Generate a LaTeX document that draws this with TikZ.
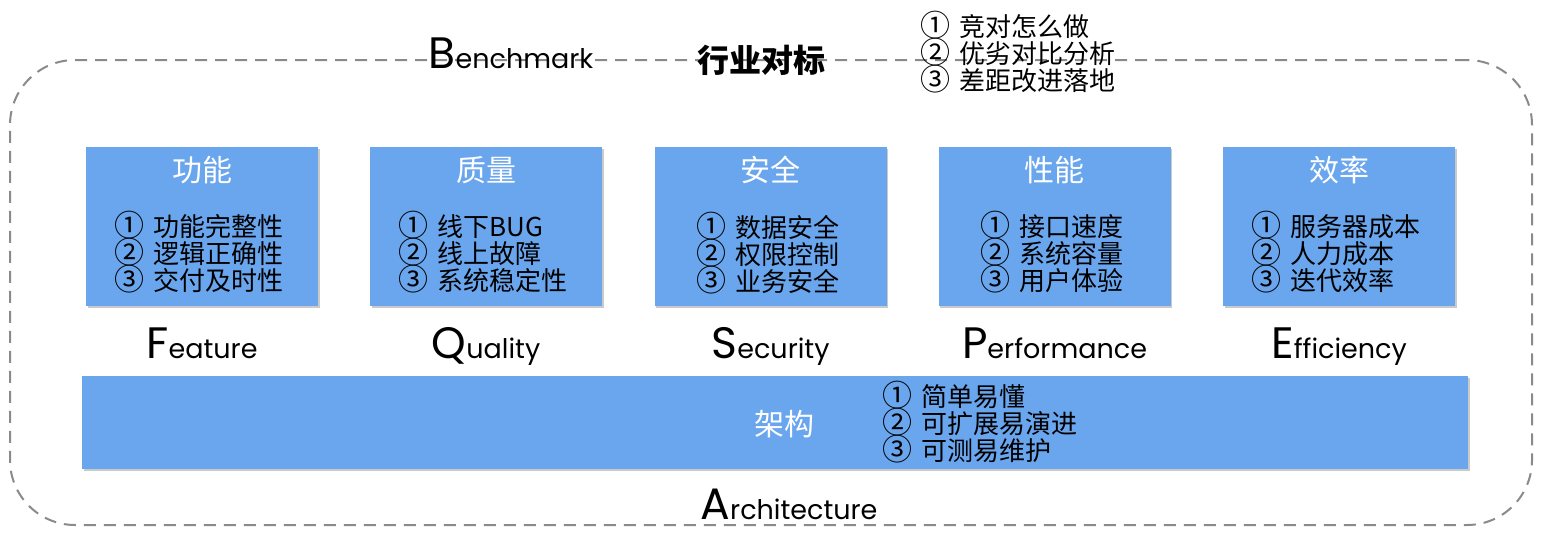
\documentclass[tikz,border=0pt]{standalone}
\usepackage{fontspec}
\setmainfont{Poppins}
\newfontfamily\cjk{Noto Sans CJK SC}
\usetikzlibrary{shadows}
\definecolor{boxblue}{HTML}{6AA6EE}
\definecolor{dashgray}{HTML}{8A8A8A}
\newcommand{\capletter}[1]{{\fontsize{44}{44}\selectfont #1}}
\newcommand{\cnum}[1]{\makebox[39pt][l]{\smash{\fontsize{30}{27}\selectfont #1}}}
\begin{document}
\begin{tikzpicture}[x=1pt,y=-1pt,
  frame/.style={draw=dashgray, line width=2pt, dash pattern=on 12pt off 8pt, rounded corners=65pt, inner sep=0pt, fill=none},
  card/.style={fill=boxblue, draw=none, inner sep=0pt, drop shadow={shadow xshift=1.5pt, shadow yshift=-2pt, opacity=0.35, fill=black!60}},
  cardtitle/.style={text=white, font=\cjk\fontsize{30}{30}\selectfont, inner sep=0pt},
  items/.style={text=black, font=\cjk\fontsize{26}{27}\selectfont, align=left, inner sep=0pt},
  eng/.style={text=black, font=\fontsize{27}{27}\selectfont, inner sep=0pt, anchor=base},
]
\useasboundingbox (0,0) rectangle (1552,542);
\node[frame, minimum width=1522pt, minimum height=465pt] (frame) at (771,292.5) {};

% cards
\foreach \n/\cx/\t/\a/\b/\c/\e/\f in {
  fe/202/功能/功能完整性/逻辑正确性/交付及时性/F/eature,
  qu/486/质量/线下BUG/线上故障/系统稳定性/Q/uality,
  se/770.5/安全/数据安全/权限控制/业务安全/S/ecurity,
  pe/1054.5/性能/接口速度/系统容量/用户体验/P/erformance,
  ef/1339/效率/服务器成本/人力成本/迭代效率/E/fficiency}{
  \node[card, minimum width=232pt, minimum height=159pt] (\n) at (\cx,226.5) {};
  \node[cardtitle] (\n-t) at (\cx,170) {\t};
  \node[items] (\n-i) at (\cx-3,254) {\cnum{①}\a\\\cnum{②}\b\\\cnum{③}\c};
  \node[eng] (\n-l) at (\cx,358) {\capletter{\e}\f};
}

% architecture bar
\node[card, minimum width=1386pt, minimum height=93pt] (ar) at (775,422.5) {};
\node[cardtitle] (ar-t) at (784,424) {架构};
\node[items, anchor=west] (ar-i) at (882,424) {\cnum{①}简单易懂\\\cnum{②}可扩展易演进\\\cnum{③}可测易维护};
\node[eng] (ar-l) at (789,519) {\capletter{A}rchitecture};

% benchmark
\node[eng] (bm-l) at (511,68) {\capletter{B}enchmark};
\node[text=black, font=\cjk\bfseries\fontsize{32}{32}\selectfont, inner sep=0pt] (bm-t) at (761,60) {行业对标};
\node[items, anchor=west] (bm-i) at (920,54) {\cnum{①}竞对怎么做\\\cnum{②}优劣对比分析\\\cnum{③}差距改进落地};
\end{tikzpicture}
\end{document}
